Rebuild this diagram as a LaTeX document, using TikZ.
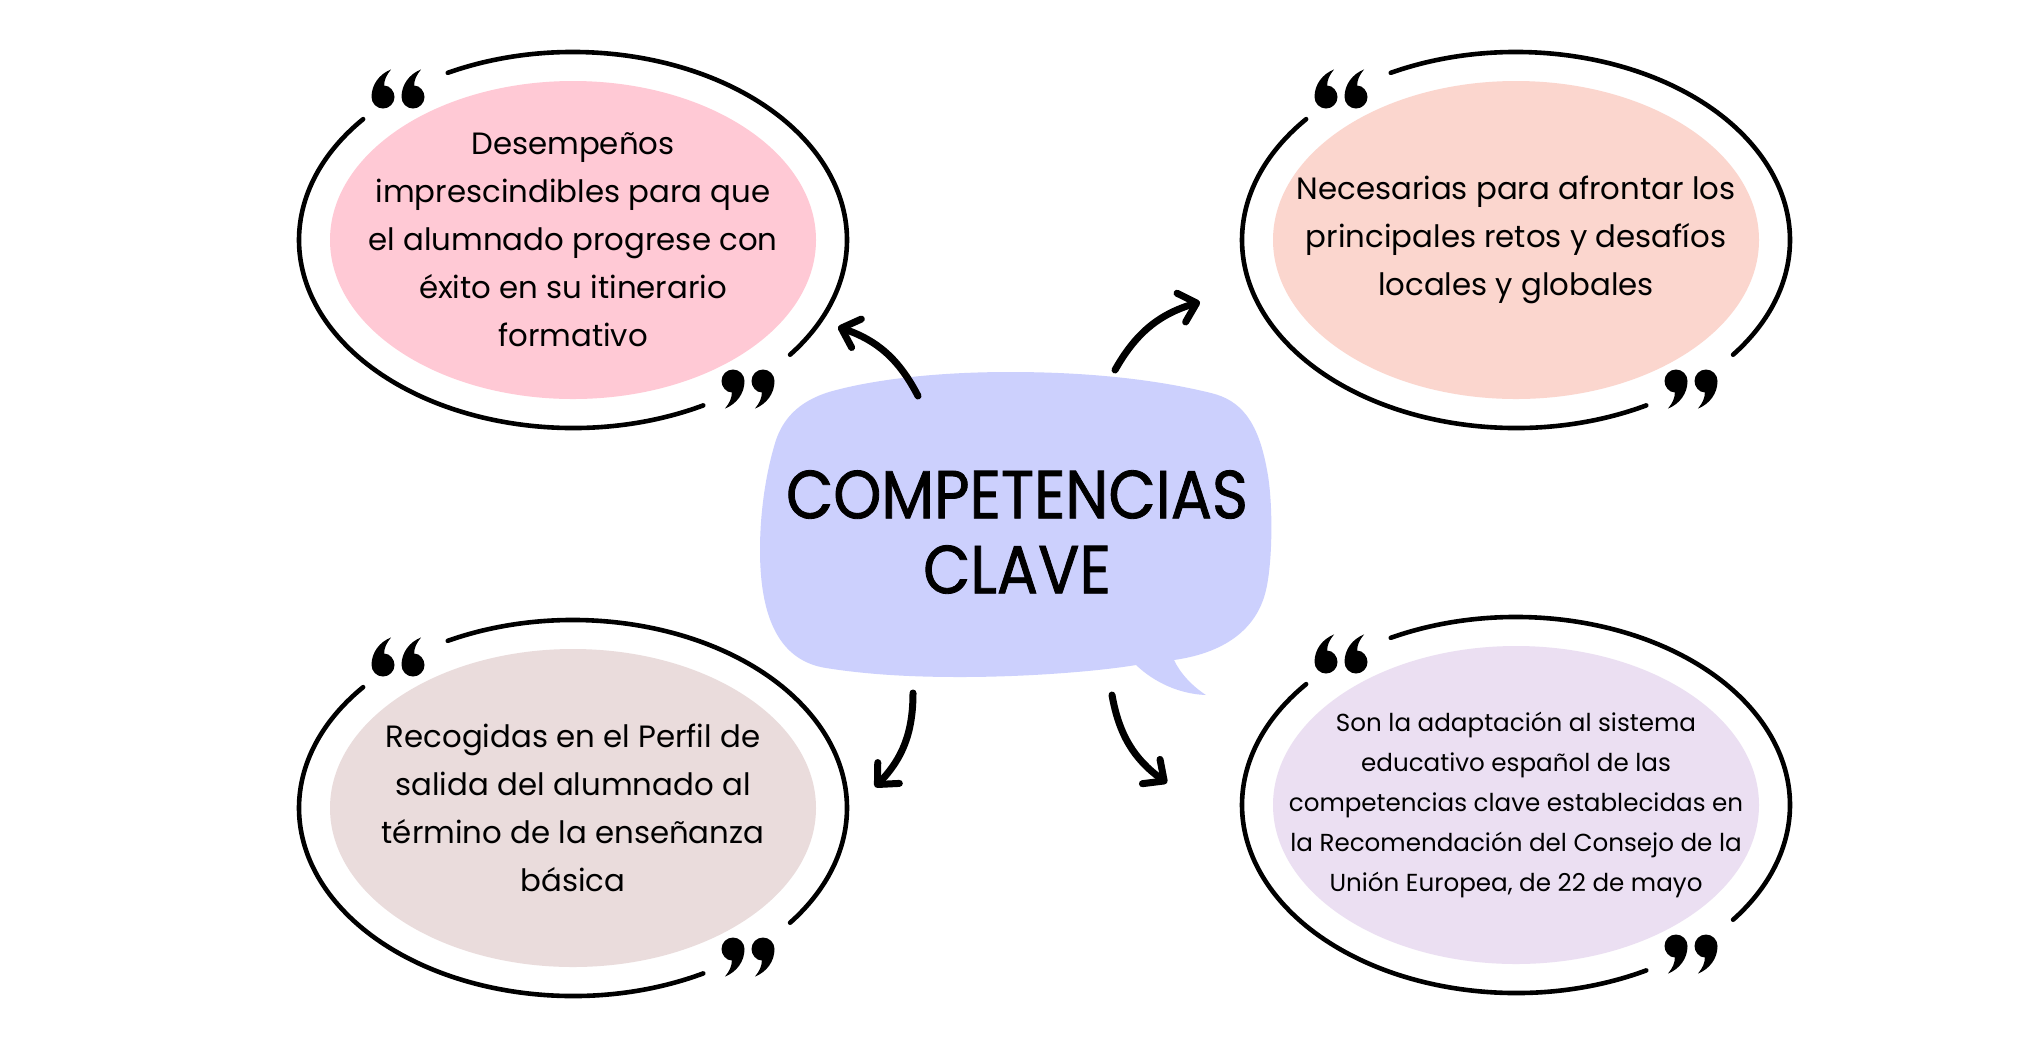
\documentclass[tikz,border=0pt]{standalone}
\usepackage{fontspec}
\setmainfont{Poppins}
\newfontfamily\titlefont{Poppins}[FakeStretch=0.9,FakeBold=1.2]
\usetikzlibrary{shapes.geometric,arrows.meta}
\definecolor{cTL}{HTML}{FFC9D5}
\definecolor{cTR}{HTML}{FBD6CE}
\definecolor{cBL}{HTML}{EADCDC}
\definecolor{cBR}{HTML}{EBDFF2}
\definecolor{cC}{HTML}{CCD0FD}
\tikzset{
  blob/.style={ellipse,draw=none,minimum width=243pt,minimum height=159pt,inner sep=0pt},
  ring/.style={line width=2.3pt,line cap=round},
  bodytxt/.style={align=center,inner sep=0pt,font=\fontsize{15.4}{24}\selectfont},
  smalltxt/.style={align=center,inner sep=0pt,font=\fontsize{12.3}{20}\selectfont},
  titletxt/.style={align=center,inner sep=0pt,font=\titlefont\fontsize{34}{37.5}\selectfont},
  conn/.style={line width=3.5pt,line cap=round,-{Straight Barb[length=8pt,width=15pt,round]}},
  pics/closecomma/.style={code={\fill[scale=1.15] (-10,0) arc[start angle=180,end angle=0,radius=10]
      .. controls (10,-11) and (3,-20) .. (-7,-24)
      .. controls (-3,-19) and (-1,-15) .. (-1,-10)
      .. controls (-6,-10) and (-10,-5) .. (-10,0) -- cycle;}},
  pics/opencomma/.style={code={\fill[scale=1.15] (10,0) arc[start angle=0,end angle=-180,radius=10]
      .. controls (-10,11) and (-3,20) .. (7,24)
      .. controls (3,19) and (1,15) .. (1,10)
      .. controls (6,10) and (10,5) .. (10,0) -- cycle;}},
  pics/closeq/.style={code={\pic at (-15,8) {closecomma}; \pic at (15,8) {closecomma};}},
  pics/openq/.style={code={\pic at (-15,-8) {opencomma}; \pic at (15,-8) {opencomma};}},
}
\newcommand\ringat[1]{%
  \draw[ring] (#1.center) ++(117.2:274 and 188) arc[start angle=117.2,end angle=-37.6,x radius=274,y radius=188];
  \draw[ring] (#1.center) ++(-61.6:274 and 188) arc[start angle=-61.6,end angle=-220,x radius=274,y radius=188];
  \pic at ([shift={(-175,151)}]#1.center) {openq};
  \pic at ([shift={(175,-149)}]#1.center) {closeq};}
\begin{document}
\begin{tikzpicture}[x=0.5pt,y=0.5pt]
\useasboundingbox (0,0) rectangle (2040,-1062);
\fill[white] (0,0) rectangle (2040,-1062);

% ellipses
\node[blob,fill=cTL] (tl) at (573,-240) {};
\node[blob,fill=cTR] (tr) at (1516,-240) {};
\node[blob,fill=cBL] (bl) at (573,-808) {};
\node[blob,fill=cBR] (br) at (1516,-805) {};
\ringat{tl}\ringat{tr}\ringat{bl}\ringat{br}

\node[bodytxt] (tlt) at (tl.center) {Desempeños\\imprescindibles para que\\el alumnado progrese con\\éxito en su itinerario\\formativo};
\node[bodytxt] (trt) at (tr.center) {Necesarias para afrontar los\\principales retos y desafíos\\locales y globales};
\node[bodytxt] (blt) at (bl.center) {Recogidas en el Perfil de\\salida del alumnado al\\término de la enseñanza\\básica};
\node[smalltxt] (brt) at (br.center) {Son la adaptación al sistema\\educativo español de las\\competencias clave establecidas en\\la Recomendación del Consejo de la\\Unión Europea, de 22 de mayo};

% central bubble
\fill[cC] (1010,-372)
  .. controls (920,-372) and (860,-383) .. (829,-392)
  .. controls (797,-402) and (783,-420) .. (776,-440)
  .. controls (765,-475) and (760,-515) .. (760,-550)
  .. controls (760,-610) and (775,-660) .. (826,-668)
  .. controls (870,-675) and (915,-677) .. (960,-677)
  .. controls (1030,-677) and (1100,-671) .. (1136,-665)
  .. controls (1155,-683) and (1180,-694) .. (1206,-695)
  .. controls (1192,-686) and (1180,-673) .. (1174,-660)
  .. controls (1230,-652) and (1258,-625) .. (1266,-590)
  .. controls (1273,-560) and (1273,-500) .. (1267,-470)
  .. controls (1258,-420) and (1240,-400) .. (1211,-393)
  .. controls (1150,-378) and (1080,-372) .. (1010,-372) -- cycle;
\node[titletxt] (core) at (1017,-532) {COMPETENCIAS\\CLAVE};

% arrows
\coordinate (s1) at (918,-396); \coordinate (e1) at (838,-327);
\coordinate (s2) at (1115,-370); \coordinate (e2) at (1200,-302);
\coordinate (s3) at (913,-693); \coordinate (e3) at (875,-787);
\coordinate (s4) at (1112,-695); \coordinate (e4) at (1167,-783);
\draw[conn] (s1) to[bend right=22] (e1);
\draw[conn] (s2) to[bend left=22] (e2);
\draw[conn] (s3) to[bend left=22] (e3);
\draw[conn] (s4) to[bend right=22] (e4);
\end{tikzpicture}
\end{document}
